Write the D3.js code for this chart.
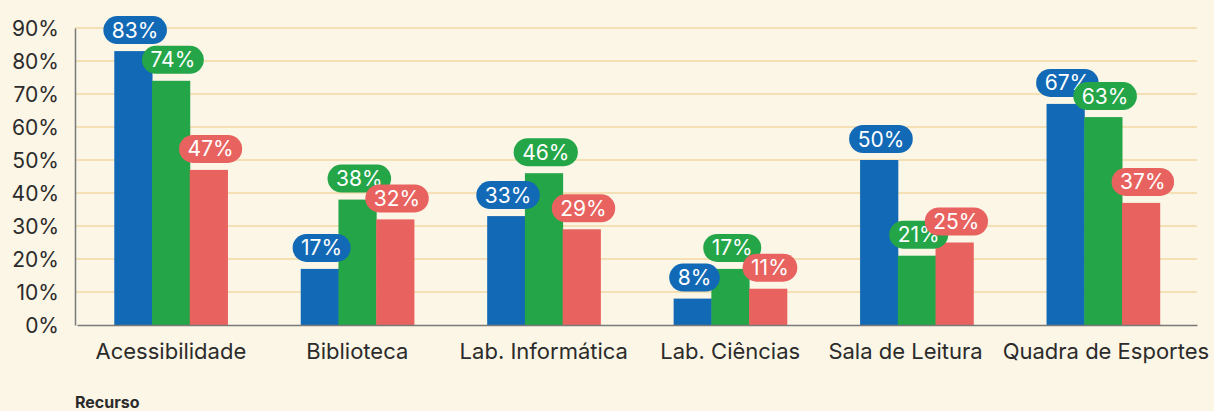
<!DOCTYPE html>
<html><head><meta charset="utf-8">
<script src="https://cdn.jsdelivr.net/npm/d3@7"></script>
<style>
html,body{margin:0;padding:0;background:#FCF6E6;}
svg{display:block;font-family:Inter,"Noto Sans",sans-serif;}
</style></head>
<body><svg id="c" width="1214" height="411"></svg>
<script>
const categories = ["Acessibilidade","Biblioteca","Lab. Informática","Lab. Ciências","Sala de Leitura","Quadra de Esportes"];
const seriesNames = ["Série 1","Série 2","Série 3"];
const series1 = [83,17,33,8,50,67];
const series2 = [74,38,46,17,21,63];
const series3 = [47,32,29,11,25,37];
const yTicks = [0,10,20,30,40,50,60,70,80,90];
const colors = ["#1269B5","#23A548","#E8635F"];
const axisTitle = "Recurso";

const FONT="Inter,'Noto Sans',sans-serif";
const svg = d3.select("#c");
const W=1214,H=411;
svg.append("rect").attr("width",W).attr("height",H).attr("fill","#FCF6E6");
const m={l:75,r:17,t:28,b:86};
const x0=d3.scaleBand().domain(categories).range([m.l+2,W-m.r]).paddingInner(0.393).paddingOuter(0.2);
const x1=d3.scaleBand().domain(seriesNames).range([0,x0.bandwidth()]);
const y=d3.scaleLinear().domain([0,90]).range([H-m.b,m.t]);

// grid
svg.append("g").selectAll("line").data(yTicks.filter(d=>d>0)).join("line")
 .attr("x1",m.l).attr("x2",W-m.r).attr("y1",d=>y(d)).attr("y2",d=>y(d))
 .attr("stroke","#F3D9A4").attr("stroke-width",1.5);

// y axis
const ya=svg.append("g").attr("transform",`translate(${m.l},0)`)
 .call(d3.axisLeft(y).tickValues(yTicks).tickFormat(d=>d+"%").tickSize(0).tickPadding(16));
ya.select(".domain").attr("stroke","#7a7a7a").attr("stroke-width",1.5);
ya.selectAll("text").attr("font-size",21).attr("fill","#2b2b2b").attr("font-family",FONT).attr("dy","0.36em");

const allSeries=[series1,series2,series3];
const rows=categories.map((c,i)=>({cat:c,vals:allSeries.map((s,j)=>({name:seriesNames[j],v:s[i],j}))}));

const g=svg.append("g");
const grp=g.selectAll("g").data(rows).join("g").attr("transform",d=>`translate(${x0(d.cat)},0)`);
grp.selectAll("rect").data(d=>d.vals).join("rect")
 .attr("x",d=>x1(d.name)).attr("width",x1.bandwidth()+0.5)
 .attr("y",d=>y(d.v)).attr("height",d=>y(0)-y(d.v)).attr("fill",d=>colors[d.j]);

// x axis
const xa=svg.append("g").attr("transform",`translate(0,${y(0)})`)
 .call(d3.axisBottom(x0).tickSize(0).tickPadding(18));
xa.select(".domain").attr("stroke","#7a7a7a").attr("stroke-width",1.5);
const xt=xa.selectAll("text").attr("font-size",22).attr("fill","#2b2b2b").attr("font-family",FONT);
// simple overlap avoidance between neighbouring category labels
const nodes=xt.nodes();
const minGap=20;
for(let i=0;i<nodes.length-1;i++){
  const a=nodes[i].getBBox(), b=nodes[i+1].getBBox();
  const ta=nodes[i].parentNode, tb=nodes[i+1].parentNode;
  const ma=ta.getCTM(), mb=tb.getCTM();
  const aR=ma.e+a.x+a.width, bL=mb.e+b.x;
  const need=minGap-(bL-aR);
  if(need>0){
    d3.select(nodes[i]).attr("dx",-need*0.8);
    d3.select(nodes[i+1]).attr("dx",need*0.2);
  }
}

// labels
const lab=svg.append("g");
rows.forEach(r=>{
  r.vals.forEach(d=>{
    const cx=x0(r.cat)+x1(d.name)+x1.bandwidth()/2+2;
    const by=y(d.v)-7;
    const lg=lab.append("g");
    const rect=lg.append("rect");
    const t=lg.append("text").attr("x",cx).attr("y",by-6.5).attr("text-anchor","middle")
      .attr("font-size",21).attr("fill","#fff").attr("font-family",FONT).text(d.v+"%");
    const w=t.node().getComputedTextLength()+17;
    rect.attr("x",cx-w/2).attr("y",by-28).attr("width",w).attr("height",28)
      .attr("rx",14).attr("fill",colors[d.j]);
  });
});

svg.append("text").attr("x",m.l).attr("y",408).attr("font-size",16).attr("font-weight",700)
 .attr("fill","#2b2b2b").attr("font-family",FONT).text(axisTitle);
</script></body></html>
